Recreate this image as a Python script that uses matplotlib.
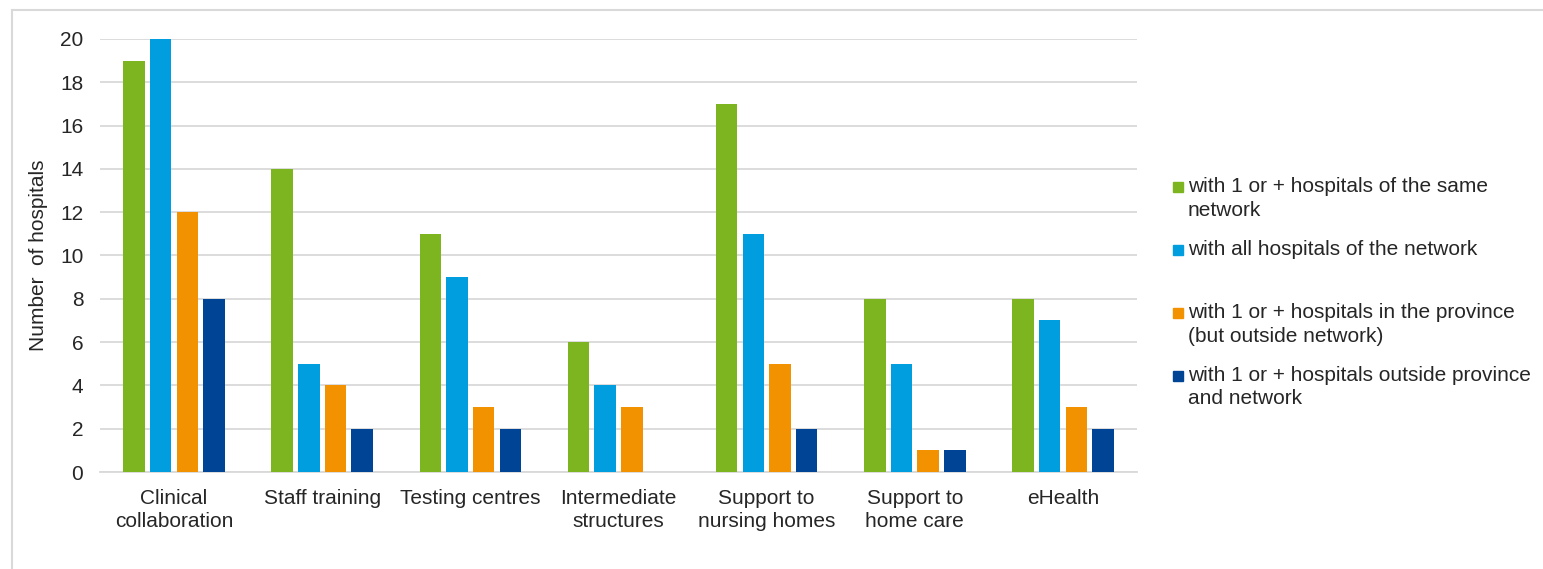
import matplotlib.pyplot as plt
from matplotlib.patches import Rectangle
from matplotlib.lines import Line2D
import numpy as np

plt.rcParams['font.family'] = ['Liberation Sans', 'DejaVu Sans']

categories = ["Clinical\ncollaboration", "Staff training", "Testing centres",
              "Intermediate\nstructures", "Support to\nnursing homes",
              "Support to\nhome care", "eHealth"]

same_network = [19, 14, 11, 6, 17, 8, 8]
all_network = [20, 5, 9, 4, 11, 5, 7]
province = [12, 4, 3, 3, 5, 1, 3]
outside = [8, 2, 2, 0, 2, 1, 2]

series_labels = ["with 1 or + hospitals of the same\nnetwork",
                 "with all hospitals of the network",
                 "with 1 or + hospitals in the province\n(but outside network)",
                 "with 1 or + hospitals outside province\nand network"]
colors = ["#7CB51F", "#009DDF", "#F39200", "#004595"]

W, H = 1543, 569
fig = plt.figure(figsize=(W / 100, H / 100), dpi=100)
ax = fig.add_axes([100 / W, 1 - 472 / H, (1137 - 100) / W, (472 - 39) / H])

x = np.arange(len(categories))
step = 0.18
bw = 0.145
all_series = [same_network, all_network, province, outside]
for i, vals in enumerate(all_series):
    ax.bar(x + (i - 1.5) * step, vals, width=bw, color=colors[i], zorder=3)

ax.set_xlim(-0.5, len(categories) - 0.5)
ax.set_ylim(0, 20)
ax.set_yticks(range(0, 21, 2))
ax.set_xticks(x)
ax.set_xticklabels(categories, fontsize=15, color="#262626", linespacing=1.3)
ax.tick_params(axis="y", labelsize=15, labelcolor="#262626", length=0, pad=12)
ax.tick_params(axis="x", length=0, pad=12)
ax.grid(axis="y", color="#D9D9D9", linewidth=1.3, zorder=0)
for s in ["top", "right", "left"]:
    ax.spines[s].set_visible(False)
ax.spines["bottom"].set_color("#D9D9D9")
ax.spines["bottom"].set_linewidth(1.3)
ax.set_ylabel("Number  of hospitals", fontsize=15, color="#262626")
ax.yaxis.set_label_coords(-(100 - 48) / (1137 - 100), 0.5)

# legend drawn by hand, entries evenly spaced
entry_y = [187, 250, 313, 376]
for i, lab in enumerate(series_labels):
    yc = entry_y[i]
    fig.add_artist(Rectangle((1173 / W, 1 - (yc + 5) / H), 10 / W, 10 / H,
                             transform=fig.transFigure, color=colors[i]))
    fig.text(1188 / W, 1 - (yc - 10) / H, lab, fontsize=15, color="#262626",
             va="top", ha="left", linespacing=1.3)

# outer frame
fig.add_artist(Line2D([12 / W, 12 / W], [1 - 10 / H, 0], transform=fig.transFigure,
                      color="#D9D9D9", linewidth=1.5))
fig.add_artist(Line2D([12 / W, 1], [1 - 10 / H, 1 - 10 / H], transform=fig.transFigure,
                      color="#D9D9D9", linewidth=1.5))

fig.savefig("out.png", dpi=100)
